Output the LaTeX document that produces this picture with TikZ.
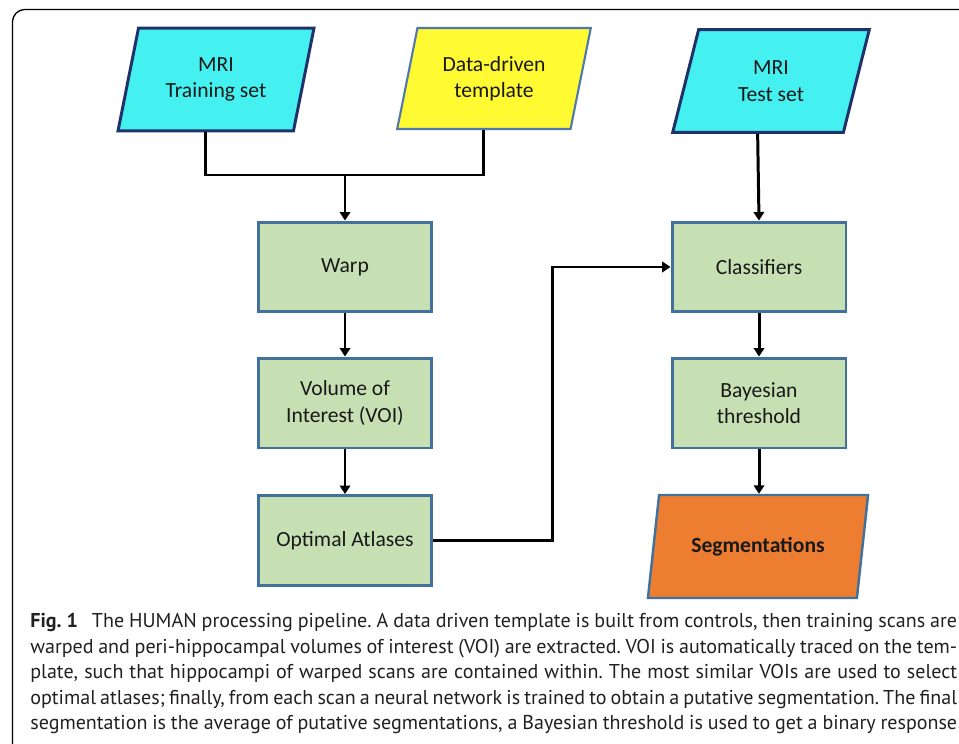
\documentclass[tikz,border=0pt]{standalone}
\usepackage{fontspec}
\setmainfont{Carlito}
\newfontfamily\capfont{PT Sans}
\usetikzlibrary{shapes.geometric,arrows.meta}

\definecolor{mricyan}{RGB}{69,240,240}
\definecolor{mrinavy}{RGB}{31,50,105}
\definecolor{tmplyellow}{RGB}{255,250,50}
\definecolor{tmplblue}{RGB}{80,120,170}
\definecolor{stepgreen}{RGB}{198,224,180}
\definecolor{stepblue}{RGB}{65,113,156}
\definecolor{segorange}{RGB}{237,125,49}
\definecolor{captext}{RGB}{35,31,32}

\newcommand{\capline}[1]{\makebox[18.54cm][s]{#1}}

\tikzset{
  label font/.style={font=\fontsize{12.3pt}{15pt}\selectfont, text=black!90},
  dataset/.style={trapezium, trapezium left angle=75, trapezium right angle=105,
    trapezium stretches=true, minimum width=3.94cm, minimum height=2.06cm,
    align=center, label font},
  stepbox/.style={rectangle, draw=stepblue, line width=1.7pt, fill=stepgreen,
    minimum width=3.48cm, minimum height=1.8cm, align=center, label font},
  link/.style={line width=1.7pt},
  arr/.style={line width=1.7pt, -{Triangle[length=1.7mm,width=2.1mm]}}
}

\begin{document}
\begin{tikzpicture}[x=0.02cm,y=-0.02cm]
\useasboundingbox (0,0) rectangle (959,743);
\clip (0,0) rectangle (959,743);
% frame
\draw[line width=0.75pt, rounded corners=7pt] (12.5,9.5) rectangle (1000,800);

% inputs
\node[dataset, draw=mrinavy, line width=1.7pt, fill=mricyan] (train) at (216,79.5) {MRI\\Training set};
\node[dataset, draw=tmplblue, line width=1.2pt, fill=tmplyellow, minimum width=3.88cm, minimum height=2.02cm] (tmpl) at (494,78.5) {Data-driven\\template};
\node[dataset, draw=mrinavy, line width=1.7pt, fill=mricyan] (test) at (771,81) {MRI\\Test set};

% left column
\node[stepbox] (warp) at (345,267) {Warp};
\node[stepbox] (voi) at (345,403) {Volume of\\Interest (VOI)};
\node[stepbox] (atlas) at (345,540.5) {Optimal Atlases};

% right column
\node[stepbox] (clf) at (759,267) {Classifiers};
\node[stepbox] (bayes) at (759,403) {Bayesian\\threshold};
\node[dataset, draw=stepblue, line width=1.4pt, fill=segorange, minimum width=4.44cm, font=\bfseries\fontsize{12.3pt}{15pt}\selectfont] (seg) at (758,546.5) {Segmentations};

% connectors
\coordinate (join) at (345,175);
\coordinate (turn) at (552,400);
\draw[link] (train.bottom side) |- (join) -| (tmpl.bottom side);
\draw[arr] (join) -- (warp.north);
\draw[arr] (warp) -- (voi);
\draw[arr] (voi) -- (atlas);
\draw[arr] (atlas.east) -| (turn) |- (clf.west);
\draw[arr] (test.bottom side) -- (clf.north);
\draw[arr] (clf) -- (bayes);
\draw[arr] (bayes.south) -- (bayes.south |- seg.top side);

% caption
\node[anchor=north west, inner sep=0pt, align=left, text=captext,
  font=\capfont\frenchspacing\fontsize{11.4pt}{14.5pt}\selectfont] (caption) at (30,613) {%
\capline{\textbf{Fig.\hspace{0.25em}1}\hspace{0.7em}The HUMAN processing pipeline. A data driven template is built from controls, then training scans are}\\
\capline{warped and peri-hippocampal volumes of interest (VOI) are extracted. VOI is automatically traced on the tem-}\\
\capline{plate, such that hippocampi of warped scans are contained within. The most similar VOIs are used to select}\\
\capline{optimal atlases; finally, from each scan a neural network is trained to obtain a putative segmentation. The final}\\
\capline{segmentation is the average of putative segmentations, a Bayesian threshold is used to get a binary response}};
\end{tikzpicture}
\end{document}
